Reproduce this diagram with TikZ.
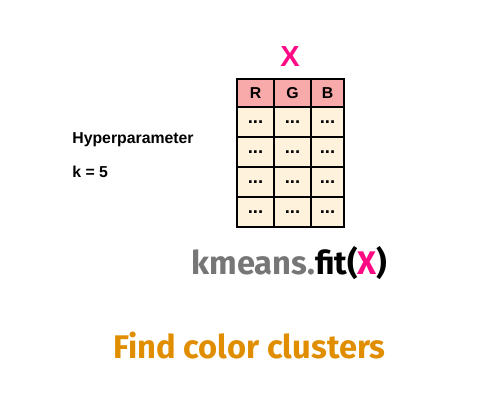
\documentclass[tikz,border=0pt]{standalone}
\usepackage{fontspec}
\setmainfont{Liberation Sans}
\newfontfamily\firafont{Fira Sans}
\usetikzlibrary{positioning}

\definecolor{hdrpink}{HTML}{F8A9A9}
\definecolor{cellcream}{HTML}{FFF2DC}
\definecolor{xmagenta}{HTML}{FF0A84}
\definecolor{callgray}{HTML}{767676}
\definecolor{findorange}{HTML}{E08E00}

\tikzset{
    cell/.style={draw, line width=0.6pt, inner sep=0pt, minimum height=0.6cm,
        font=\fontsize{9}{10}\selectfont\bfseries},
    hdrcell/.style={cell, fill=hdrpink, minimum height=0.56cm},
    datacell/.style={cell, fill=cellcream, font=\fontsize{10.5}{11}\selectfont\bfseries},
    smalltext/.style={anchor=west, inner sep=0pt, font=\fontsize{9}{10}\selectfont\bfseries},
    bigtext/.style={font=\firafont\fontsize{18.6}{20}\selectfont\bfseries}
}

\begin{document}
\begin{tikzpicture}[x=0.02cm, y=-0.02cm]
    \useasboundingbox (0, 0) rectangle (500, 400);
    % header of the table
    \foreach \lbl/\cx/\w in {R/255.5/0.74cm, G/292.5/0.74cm, B/327.5/0.66cm}
        \node[hdrcell, minimum width=\w] (h\lbl) at (\cx, 93) {\lbl};
    % rows of the table
    \foreach \r/\cy in {1/122, 2/152, 3/182, 4/212}
        \foreach \c/\cx/\w in {1/255.5/0.74cm, 2/292.5/0.74cm, 3/327.5/0.66cm}
            \node[datacell, minimum width=\w] (c-\r-\c) at (\cx, \cy) {...};
    \node[text=xmagenta, font=\fontsize{16.5}{18}\selectfont\bfseries] (xlabel) at (290, 57) {X};
    \node[smalltext] (hyper) at (72, 140) {Hyperparameter};
    \node[smalltext] (kval) at (72, 172) {k = 5};
    \node[bigtext] (call) at (289.5, 263)
        {\textcolor{callgray}{kmeans.}fit(\textcolor{xmagenta}{X})};
    \node[bigtext, text=findorange] (find) at (249.5, 346) {Find color clusters};
\end{tikzpicture}
\end{document}
